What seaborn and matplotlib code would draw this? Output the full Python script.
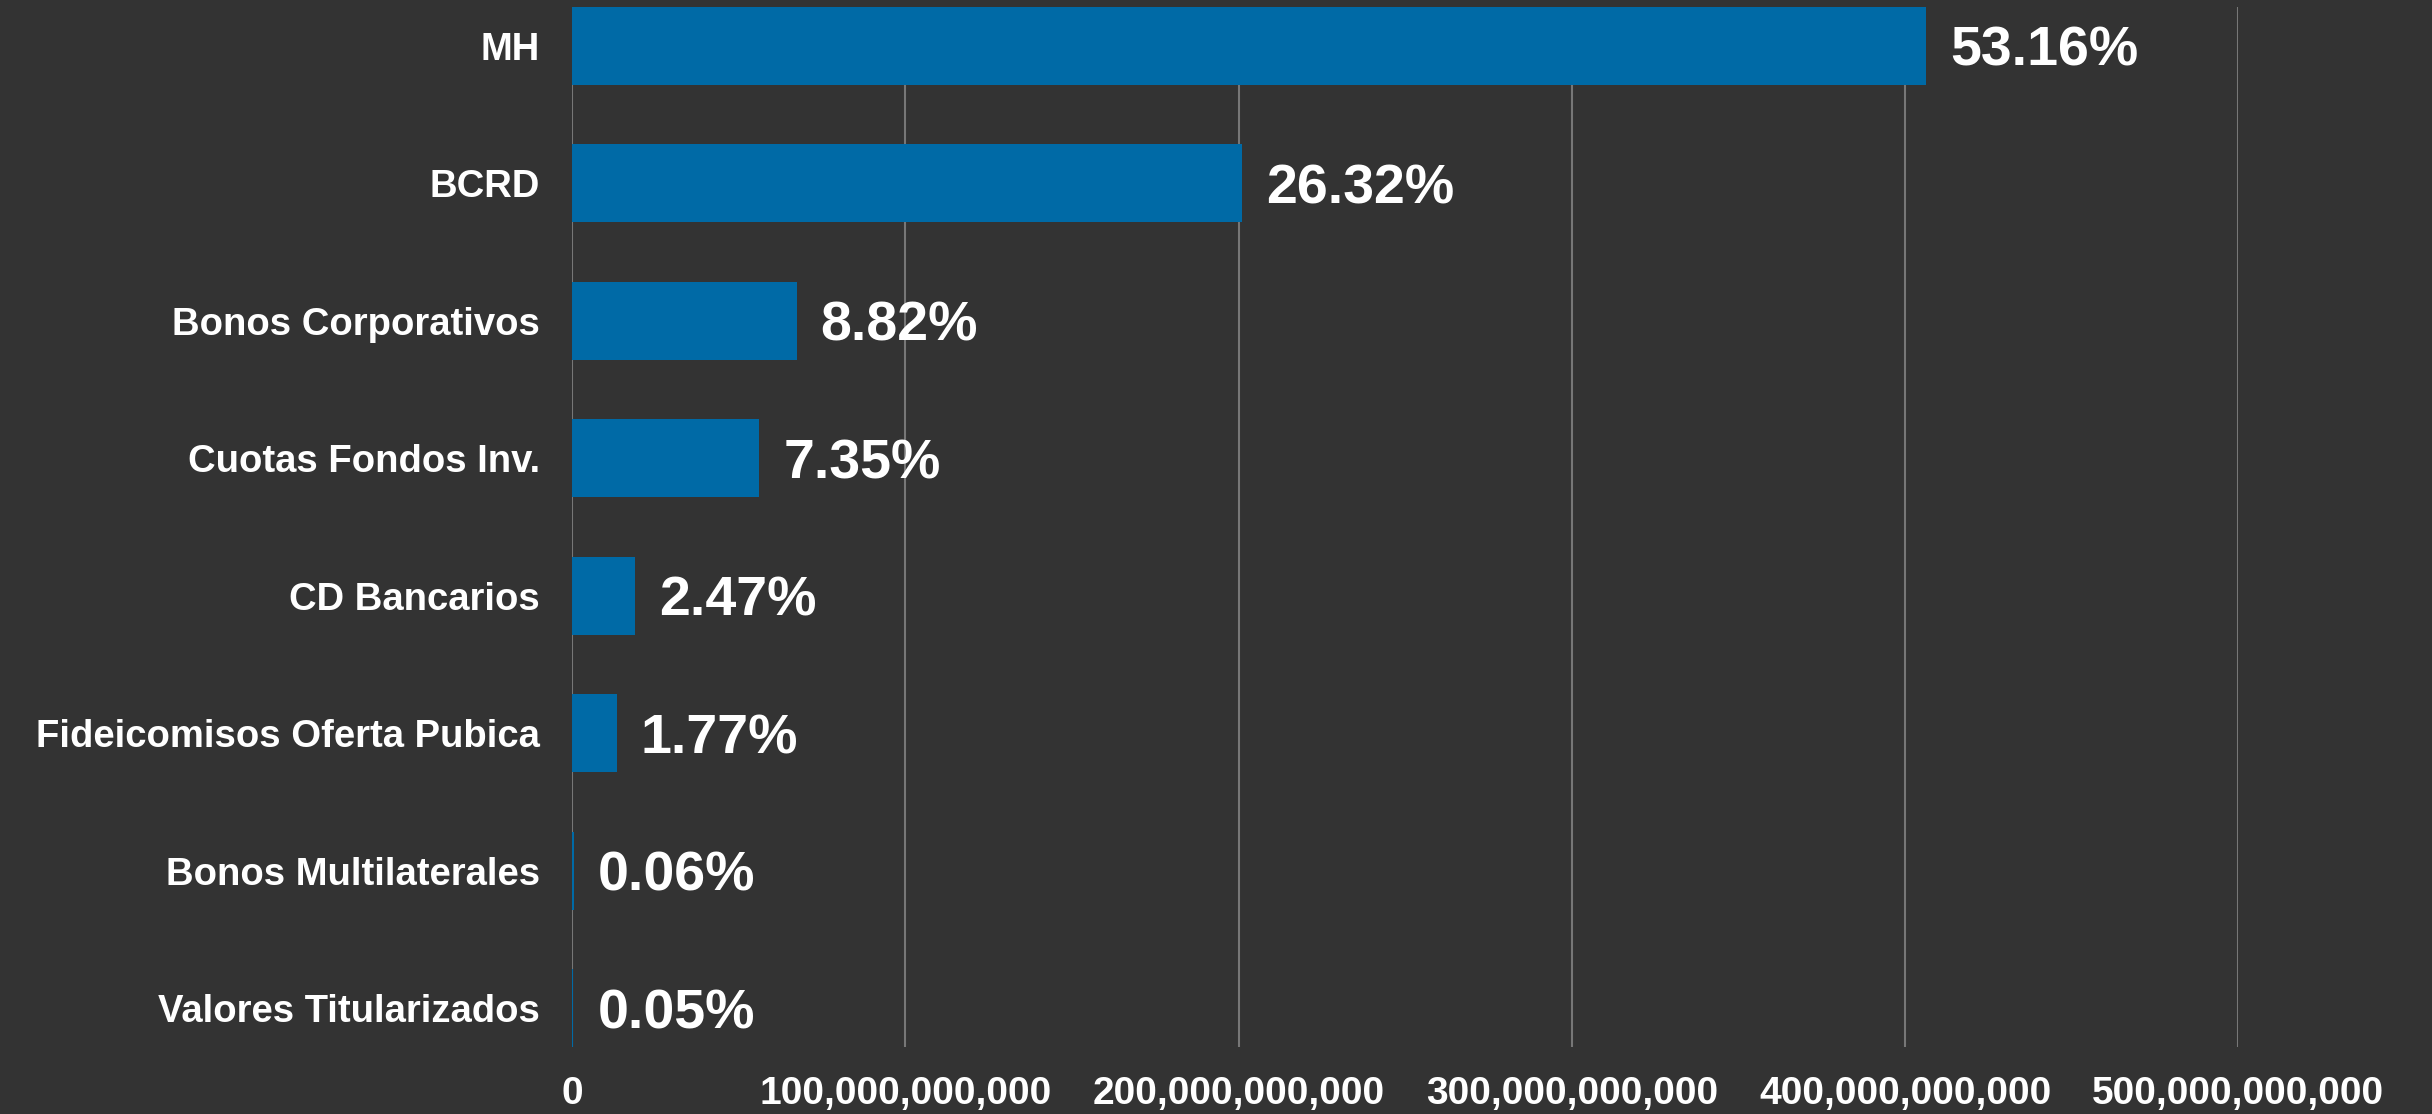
import matplotlib
matplotlib.use("Agg")
import matplotlib.pyplot as plt
import matplotlib.ticker as mticker
import seaborn as sns
import pandas as pd

# datos
categorias = ['MH', 'BCRD', 'Bonos Corporativos', 'Cuotas Fondos Inv.', 'CD Bancarios',
              'Fideicomisos Oferta Pubica', 'Bonos Multilaterales', 'Valores Titularizados']
montos = [406.2e9, 201.1e9, 67.4e9, 56.2e9, 18.9e9, 13.5e9, 0.46e9, 0.38e9]
porcentajes = ['53.16%', '26.32%', '8.82%', '7.35%', '2.47%', '1.77%', '0.06%', '0.05%']
ticks_x = [0, 100e9, 200e9, 300e9, 400e9, 500e9]

FONDO = '#333333'
AZUL = '#006AA6'
GRIS = '#777777'

sns.set_theme(style='dark')
plt.rcParams['font.family'] = ['Liberation Sans', 'DejaVu Sans']

df = pd.DataFrame({'categoria': categorias, 'monto': montos})

fig = plt.figure(figsize=(24.32, 11.14), dpi=100, facecolor=FONDO)
ax = fig.add_axes([0.2352, 0.0601, 0.6852, 0.9336])
ax.set_facecolor(FONDO)

sns.barplot(data=df, x='monto', y='categoria', orient='h', color=AZUL,
            width=0.565, saturation=1, linewidth=0, edgecolor=AZUL, ax=ax)

# etiquetas de porcentaje
for i, (m, p) in enumerate(zip(montos, porcentajes)):
    ax.annotate(p, xy=(m, i), xytext=(24, -6), textcoords='offset pixels',
                va='center', ha='left', color='white', fontsize=40, fontweight='bold')

ax.set_xlim(0, 500e9)
ax.set_ylim(len(categorias) - 1 + 0.2825, -0.2825)
ax.set_xticks(ticks_x)
ax.xaxis.set_major_formatter(mticker.FuncFormatter(lambda v, _: f'{v:,.0f}'))
ax.set_axisbelow(True)
ax.grid(axis='x', color=GRIS, linewidth=1.5)
ax.grid(axis='y', visible=False)
ax.set_xlabel('')
ax.set_ylabel('')
for s in ax.spines.values():
    s.set_visible(False)
ax.tick_params(axis='x', length=0, pad=21, labelsize=28, labelcolor='white')
ax.tick_params(axis='y', length=0, pad=23, labelsize=27.5, labelcolor='white')
for lbl in ax.get_xticklabels() + ax.get_yticklabels():
    lbl.set_fontweight('bold')

fig.savefig('out.png', dpi=100, facecolor=FONDO)
